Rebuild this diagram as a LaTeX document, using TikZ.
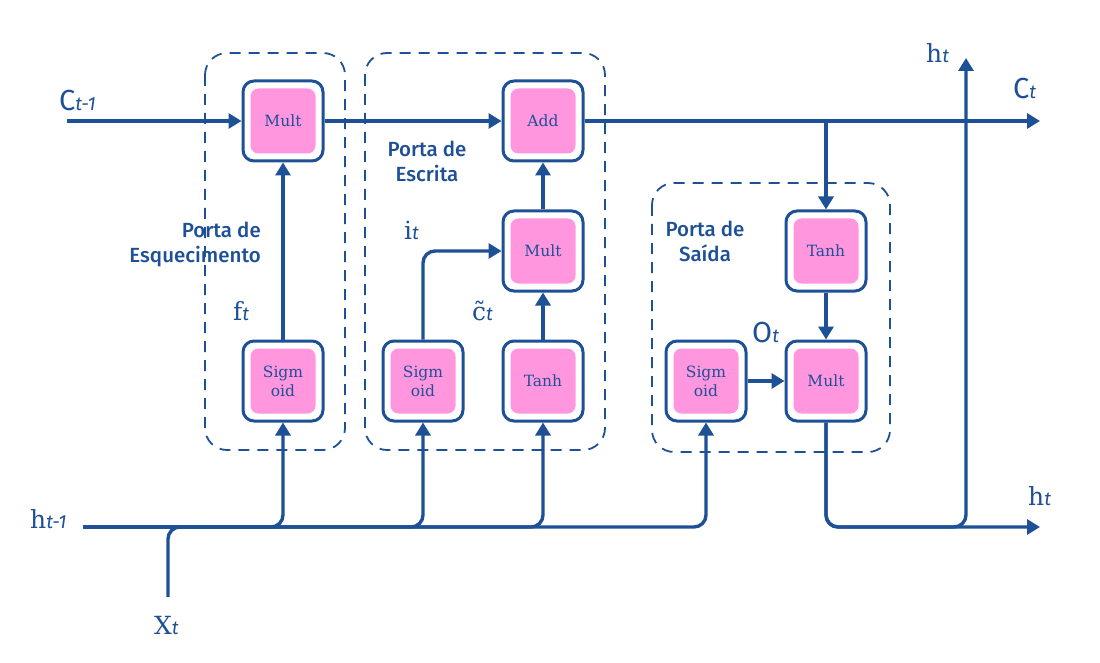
\documentclass[tikz,border=0pt]{standalone}
\usepackage{fontspec}
\setmainfont{DejaVu Serif}
\newfontfamily\labsf{Fira Sans Medium}
\newfontfamily\subsf{Fira Sans}
\newfontfamily\boxsf{DejaVu Serif}
\usetikzlibrary{arrows.meta}
\definecolor{myblue}{RGB}{30,80,150}
\definecolor{mypink}{RGB}{255,150,222}
\tikzset{
  wire/.style={line width=3.4pt, draw=myblue, rounded corners=12pt},
  arr/.style={-{Triangle[length=13pt,width=15pt]}},
  op/.style={draw=myblue, line width=3pt, fill=white, rounded corners=11pt,
    minimum width=80pt, minimum height=80pt, inner sep=0pt},
  opin/.style={fill=mypink, rounded corners=8pt, minimum width=65pt,
    minimum height=65pt, inner sep=0pt, text=myblue, align=center,
    font=\boxsf\fontsize{15.5}{19}\selectfont},
  gate/.style={draw=myblue, line width=1.8pt, dash pattern=on 11pt off 8pt, rounded corners=22pt},
  gatelab/.style={text=myblue, font=\labsf\fontsize{20.5}{25}\selectfont, inner sep=0pt},
  vlab/.style={text=myblue, font=\fontsize{25}{28}\selectfont, inner sep=0pt},
}
\newcommand{\sbs}[1]{{\subsf\itshape\fontsize{19}{22}\selectfont #1}}
\begin{document}
\begin{tikzpicture}[x=1pt,y=-1pt]
\useasboundingbox (0,0) rectangle (1100,663);
% gates
\draw[gate] (205,53) rectangle (345,450);
\draw[gate] (365,53) rectangle (605,450);
\draw[gate] (652,183) rectangle (890,452);
% op nodes
\node[op] (m1) at (283,121) {}; \node[opin] (m1i) at (m1) {Mult};
\node[op] (ad) at (543,121) {}; \node[opin] (adi) at (ad) {Add};
\node[op] (m2) at (543,251) {}; \node[opin] (m2i) at (m2) {Mult};
\node[op] (th1) at (543,381) {}; \node[opin] (th1i) at (th1) {Tanh};
\node[op] (sg1) at (283,381) {}; \node[opin] (sg1i) at (sg1) {Sigm\\oid};
\node[op] (sg2) at (423,381) {}; \node[opin] (sg2i) at (sg2) {Sigm\\oid};
\node[op] (th2) at (826,251) {}; \node[opin] (th2i) at (th2) {Tanh};
\node[op] (m3) at (826,381) {}; \node[opin] (m3i) at (m3) {Mult};
\node[op] (sg3) at (706,381) {}; \node[opin] (sg3i) at (sg3) {Sigm\\oid};
% coordinates
\coordinate (cstart) at (67,121);
\coordinate (cend) at (1040,121);
\coordinate (hstart) at (83,527);
\coordinate (hend) at (1040,527);
\coordinate (htop) at (966,58);
\coordinate (xstart) at (168,597);
\coordinate (xjoin) at (210,527);
% cell state
\draw[wire,arr] (cstart) -- (m1.west);
\draw[wire,arr] (m1.east) -- (ad.west);
\draw[wire,arr] (ad.east) -- (cend);
\draw[wire,arr] (th2.north |- cend) -- (th2.north);
\draw[wire,arr] (th2.south) -- (m3.north);
\draw[wire,arr] (m3.south) -- (m3.south |- hend) -- (hend);
\draw[wire,arr] (m3.south) -- (m3.south |- hend) -- (htop |- hend) -- (htop);
% h_{t-1}
\draw[wire,arr] (hstart) -- (sg1.south |- hstart) -- (sg1.south);
\draw[wire,arr] (hstart) -- (sg2.south |- hstart) -- (sg2.south);
\draw[wire,arr] (hstart) -- (th1.south |- hstart) -- (th1.south);
\draw[wire,arr] (hstart) -- (sg3.south |- hstart) -- (sg3.south);
\draw[wire] (xstart) -- (xstart |- hstart) -- (xjoin);
% inner
\draw[wire,arr] (sg1.north) -- (m1.south);
\draw[wire,arr] (sg2.north) -- (sg2.north |- m2.west) -- (m2.west);
\draw[wire,arr] (th1.north) -- (m2.south);
\draw[wire,arr] (m2.north) -- (ad.south);
\draw[wire,arr] (sg3.east) -- (m3.west);
% gate labels
\node[gatelab, align=right, anchor=east] (gl1) at (261,244) {Porta de\\Esquecimento};
\node[gatelab, align=center] (gl2) at (427,161) {Porta de\\Escrita};
\node[gatelab, align=center] (gl3) at (705,241) {Porta de\\Saída};
% variable labels
\node[vlab, anchor=base west] (lc1) at (59,111) {{\subsf\fontsize{29}{30}\selectfont C}\sbs{t-1}};
\node[vlab, anchor=base west] (lh1) at (30,528) {h\sbs{t-1}};
\node[vlab, anchor=base west] (lx) at (154,634) {X\sbs{t}};
\node[vlab, anchor=base west] (lf) at (233,320) {f\sbs{t}};
\node[vlab, anchor=base west] (li) at (404,240) {i\sbs{t}};
\node[vlab, anchor=base west] (lct) at (472,320) {\~{c}\sbs{t}};
\node[vlab, anchor=base west] (lo) at (752,342) {{\subsf\fontsize{29}{30}\selectfont O}\sbs{t}};
\node[vlab, anchor=base west] (lht) at (926,63) {h\sbs{t}};
\node[vlab, anchor=base west] (lcn) at (1013,99) {{\subsf\fontsize{29}{30}\selectfont C}\sbs{t}};
\node[vlab, anchor=base west] (lhn) at (1028,505) {h\sbs{t}};
\end{tikzpicture}
\end{document}
